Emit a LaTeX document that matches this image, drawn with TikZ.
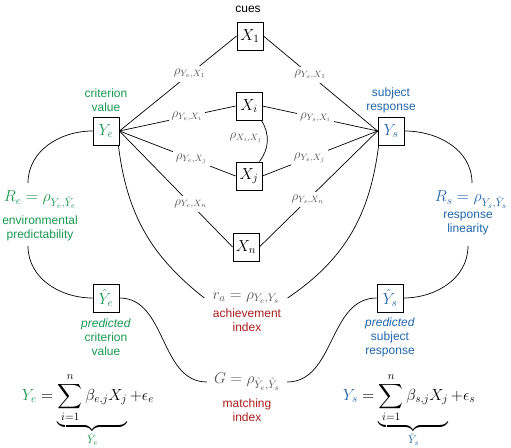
\RequirePackage{fix-cm}
\documentclass[tikz,border=0pt]{standalone}
\usepackage{amsmath}
\usepackage[no-math]{fontspec}
\newfontfamily\lsans{Liberation Sans}
\usetikzlibrary{calc}
\definecolor{cgreen}{RGB}{26,152,80}
\definecolor{cblue}{RGB}{33,102,172}
\definecolor{cred}{RGB}{170,30,30}
\definecolor{cgrey}{RGB}{85,85,85}
\begin{document}
\begin{tikzpicture}[x=1pt,y=1pt,
  box/.style={draw, line width=0.8pt, minimum width=26pt, minimum height=28pt, inner sep=0pt, font=\fontsize{16}{18}\selectfont},
  rl/.style={fill=white, inner sep=3pt, text=cgrey, font=\fontsize{13}{15}\selectfont},
  rlb/.style={inner sep=1pt, text=cgrey, font=\fontsize{13}{15}\selectfont},
  wtxt/.style={align=center, inner sep=1pt, font=\lsans\fontsize{12}{14}\selectfont},
  fml/.style={inner sep=1pt, font=\fontsize{15.5}{18}\selectfont},
  bfml/.style={inner sep=1pt, font=\fontsize{16}{19}\selectfont},
  conn/.style={line width=0.7pt}]
\useasboundingbox (0,0) rectangle (511,447);
% cue boxes
\node[wtxt] (cues) at (248,438) {cues};
\node[box] (X1) at (250,411) {$X_1$};
\node[box] (Xi) at (249,341) {$X_i$};
\node[box] (Xj) at (249,271) {$X_j$};
\node[box] (Xn) at (246,200) {$X_n$};
% criterion / subject
\node[box, text=cgreen] (Ye) at (106,316) {$Y_e$};
\node[box, text=cblue] (Ys) at (391,316) {$Y_s$};
\node[box, text=cgreen] (Yeh) at (106,149) {$\hat{Y}_e$};
\node[box, text=cblue] (Ysh) at (390,149) {$\hat{Y}_s$};
\node[wtxt, text=cgreen] (crit) at (106,347) {criterion\\value};
\node[wtxt, text=cblue] (subj) at (391,347) {subject\\response};
\node[bfml, text=cgreen] (Re) at (40,247) {$R_e = \rho_{Y_e,\hat{Y}_e}$};
\node[wtxt, text=cgreen] (envp) at (40,219) {environmental\\predictability};
\node[bfml, text=cblue] (Rs) at (471,247) {$R_s = \rho_{Y_s,\hat{Y}_s}$};
\node[wtxt, text=cblue] (resl) at (468,223) {response\\linearity};
\node[wtxt, text=cgreen] (pcv) at (106,110) {\textit{predicted}\\criterion\\value};
\node[wtxt, text=cblue] (psr) at (390,110) {\textit{predicted}\\subject\\response};
% indices
\node[fml, text=cgrey, inner xsep=8pt] (ra) at (246,149) {$r_a = \rho_{Y_e,Y_s}$};
\node[wtxt, text=cred] (ach) at (247,127) {achievement\\index};
\node[fml, text=cgrey, inner xsep=7pt] (G) at (247,65) {$G = \rho_{\hat{Y}_e,\hat{Y}_s}$};
\node[wtxt, text=cred] (mat) at (247,37) {matching\\index};
% bottom formulas
\node[bfml] (fe) at (88,37) {$\displaystyle \textcolor{cgreen}{Y_e} = \underbrace{\sum_{i=1}^{n}\beta_{e,j}X_j}_{\textcolor{cgreen}{\hat{Y}_e}} + \epsilon_e$};
\node[bfml] (fs) at (409,37) {$\displaystyle \textcolor{cblue}{Y_s} = \underbrace{\sum_{i=1}^{n}\beta_{s,j}X_j}_{\textcolor{cblue}{\hat{Y}_s}} + \epsilon_s$};
% free ends
\coordinate (ReT) at (28,264);
\coordinate (ReB) at (28,201);
\coordinate (RsT) at (472,264);
\coordinate (RsB) at (468,201);
% cue connectors
\draw[conn] (Ye.east) -- node[rl,pos=0.6]{$\rho_{Y_e,X_1}$} (X1.west);
\draw[conn] (Ye.east) -- node[rl,pos=0.58]{$\rho_{Y_e,X_i}$} (Xi.west);
\draw[conn] (Ye.east) -- node[rl,pos=0.62]{$\rho_{Y_e,X_j}$} (Xj.west);
\draw[conn] (Ye.east) -- node[rl,pos=0.63]{$\rho_{Y_e,X_n}$} (Xn.west);
\draw[conn] (Ys.west) -- node[rl,pos=0.59]{$\rho_{Y_s,X_1}$} (X1.east);
\draw[conn] (Ys.west) -- node[rl,pos=0.54]{$\rho_{Y_s,X_i}$} (Xi.east);
\draw[conn] (Ys.west) -- node[rl,pos=0.59]{$\rho_{Y_s,X_j}$} (Xj.east);
\draw[conn] (Ys.west) -- node[rl,pos=0.59]{$\rho_{Y_s,X_n}$} (Xn.east);
\draw[conn] ([xshift=-1pt]Xi.south east) to[bend left=35] ([xshift=-3pt]Xj.north east);
\node[rlb] (rij) at (246,309) {$\rho_{X_i,X_j}$};
% curves
\draw[conn] (Ye.west) to[out=180,in=90] (ReT);
\draw[conn] (ReB) to[out=-90,in=180] (Yeh.west);
\draw[conn] (Ys.east) to[out=0,in=90] (RsT);
\draw[conn] (RsB) to[out=-90,in=0] (Ysh.east);
\draw[conn] ([xshift=-1pt]Ye.south east) to[out=-83,in=142] (ra.west);
\draw[conn] ([xshift=1pt]Ys.south west) to[out=-97,in=34] (ra.east);
\draw[conn] (Yeh.east) to[out=0,in=180] (G.west);
\draw[conn] (Ysh.west) to[out=180,in=0] (G.east);
\end{tikzpicture}
\end{document}
